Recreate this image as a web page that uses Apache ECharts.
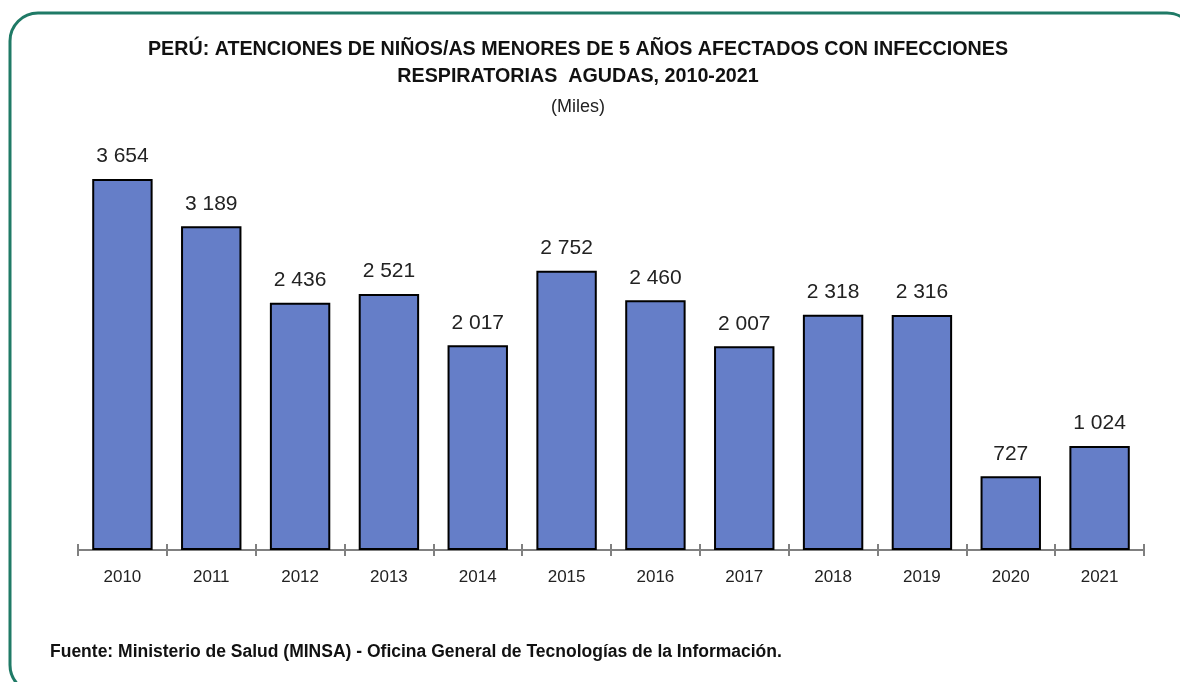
<!DOCTYPE html>
<html>
<head>
<meta charset="utf-8">
<style>
  html, body { margin: 0; padding: 0; background: #ffffff; }
  #chart { width: 1180px; height: 682px; }
</style>
<script src="https://cdn.jsdelivr.net/npm/echarts@6/dist/echarts.min.js"></script>
</head>
<body>
<div id="chart"></div>
<script>
// Atenciones (miles) por año
const years = ['2010', '2011', '2012', '2013', '2014', '2015', '2016', '2017', '2018', '2019', '2020', '2021'];
const atenciones = [3654, 3189, 2436, 2521, 2017, 2752, 2460, 2007, 2318, 2316, 727, 1024];

const narrow = "'Liberation Sans Narrow', 'Arial Narrow', 'Liberation Sans', Arial, sans-serif";

// Thousands grouped with a space: 3654 -> "3 654"
function miles(v) {
  return String(v).replace(/\B(?=(\d{3})+(?!\d))/g, ' ');
}

const tickStyle = { color: '#808080', width: 2 };

const chart = echarts.init(document.getElementById('chart'));
chart.setOption({
  backgroundColor: '#ffffff',
  animation: false,
  title: [
    {
      text: 'PERÚ: ATENCIONES DE NIÑOS/AS MENORES DE 5 AÑOS AFECTADOS CON INFECCIONES\nRESPIRATORIAS  AGUDAS, 2010-2021',
      left: 573, top: 31, textAlign: 'center',
      textStyle: { fontFamily: narrow, fontWeight: 'bold', fontSize: 19.7, lineHeight: 27, color: '#111111' }
    },
    {
      text: '(Miles)',
      left: 573, top: 93, textAlign: 'center',
      textStyle: { fontFamily: narrow, fontWeight: 'normal', fontSize: 18, color: '#222222' }
    },
    {
      text: 'Fuente: Ministerio de Salud (MINSA) - Oficina General de Tecnologías de la Información.',
      left: 45, top: 638,
      textStyle: { fontFamily: narrow, fontWeight: 'bold', fontSize: 17.5, color: '#111111' }
    }
  ],
  graphic: [
    {
      type: 'rect',
      shape: { x: 10, y: 13, width: 1185, height: 680, r: 28 },
      style: { fill: 'none', stroke: '#1f7a66', lineWidth: 3 },
      z: 0
    }
  ],
  grid: { left: 78, right: 36, top: 144, bottom: 132 },
  xAxis: [
    {
      type: 'category',
      data: years,
      axisLine: { lineStyle: { color: '#808080', width: 2 } },
      axisTick: { show: true, length: 6, lineStyle: tickStyle },
      axisLabel: { fontFamily: "'Liberation Sans', Arial, sans-serif", fontSize: 17, color: '#222222', margin: 19 }
    },
    {
      // upward half of the crossing tick marks
      type: 'category',
      data: years,
      position: 'bottom',
      axisLine: { show: false },
      axisTick: { show: true, inside: true, length: 6, lineStyle: tickStyle },
      axisLabel: { show: false }
    }
  ],
  yAxis: {
    type: 'value', min: 0, max: 4000,
    show: false,
    splitLine: { show: false }
  },
  series: [
    {
      type: 'bar',
      data: atenciones,
      barCategoryGap: '32%',
      z: 1,
      itemStyle: { color: '#657ec8', borderColor: '#000000', borderWidth: 2 },
      label: {
        show: true, position: 'top', distance: 12,
        formatter: p => miles(p.value),
        fontFamily: narrow, fontSize: 21, color: '#222222'
      }
    }
  ]
});
</script>
</body>
</html>
